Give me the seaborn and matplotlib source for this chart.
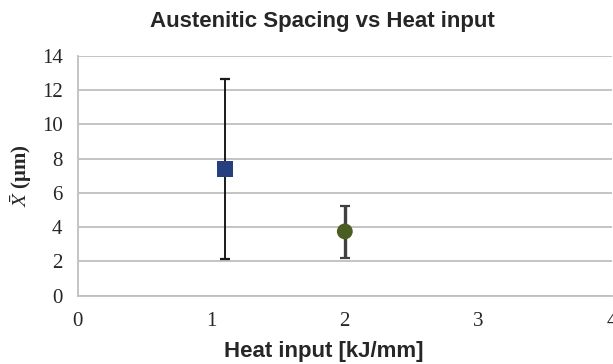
"""
Austenitic spacing vs heat input, mean with error bars
"""
import matplotlib
matplotlib.use("Agg")
import matplotlib.pyplot as plt
import pandas as pd
import seaborn as sns

# Data
heat_input = [1.1, 2.0]
mean_spacing = [7.4, 3.75]
err_low = [2.13, 2.22]
err_high = [12.63, 5.25]
series = ['A', 'B']

x_ticks = [0, 1, 2, 3, 4]
y_ticks = [0, 2, 4, 6, 8, 10, 12, 14]

df = pd.DataFrame({'heat': heat_input, 'spacing': mean_spacing,
                   'lo': err_low, 'hi': err_high, 'series': series})

sns.set_style("whitegrid")
plt.rcParams['mathtext.fontset'] = 'stix'

fig = plt.figure(figsize=(6.13, 3.64), dpi=100)
ax = fig.add_axes([0.127, 0.188, 0.871, 0.658])

# error bars first so markers sit on top
bar_colors = ['#1a1a1a', '#404040']
bar_widths = [1.4, 2.4]
for i, row in df.iterrows():
    ax.errorbar(row['heat'], row['spacing'],
                yerr=[[row['spacing'] - row['lo']], [row['hi'] - row['spacing']]],
                fmt='none', ecolor=bar_colors[i], elinewidth=bar_widths[i],
                capsize=3.5, capthick=1.6, zorder=3)

sns.scatterplot(data=df, x='heat', y='spacing', hue='series', style='series',
                palette={'A': '#263f7e', 'B': '#4a5e22'},
                markers={'A': 's', 'B': 'o'}, s=130, edgecolor='none',
                legend=False, ax=ax, zorder=4)

ax.set_xlim(0, 4)
ax.set_ylim(0, 14)
ax.set_xticks(x_ticks)
ax.set_yticks(y_ticks)
ax.set_xticklabels([str(v) for v in x_ticks], family='Liberation Serif', fontsize=15)
ax.set_yticklabels([str(v) for v in y_ticks], family='Liberation Serif', fontsize=15)
ax.tick_params(axis='y', length=0, pad=11)
ax.tick_params(axis='x', length=0, pad=12)
ax.xaxis.grid(False)
ax.yaxis.grid(True, color='#bfbfbf', linewidth=1.3)

for side in ['top', 'right']:
    ax.spines[side].set_visible(False)
for side in ['left', 'bottom']:
    ax.spines[side].set_color('#bfbfbf')
    ax.spines[side].set_linewidth(1.3)

ax.set_xlabel('Heat input [kJ/mm]', family='Liberation Sans', fontweight='bold',
              fontsize=16)
ax.xaxis.set_label_coords((324 - 78) / 534, -0.19)
ax.set_ylabel(r'$\bar{X}$ (μm)', family='Liberation Serif', fontweight='bold',
              fontsize=15)
ax.yaxis.set_label_coords((34 - 78) / 534, 0.5)

fig.text(322 / 613, 1 - 21 / 364, 'Austenitic Spacing vs Heat input',
         family='Liberation Sans', fontweight='bold', fontsize=16,
         ha='center', va='center')

fig.savefig('out.png', dpi=100)
